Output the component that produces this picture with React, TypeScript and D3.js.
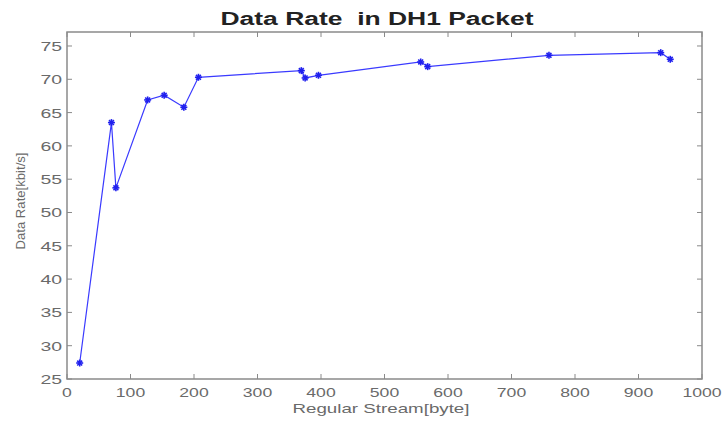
import React from "react";
import * as d3 from "d3";

const streamBytes = [20, 70, 77, 127, 153, 184, 207, 369, 375, 396, 557, 568, 759, 935, 950];
const dataRates = [27.4, 63.5, 53.7, 66.9, 67.6, 65.8, 70.3, 71.3, 70.2, 70.6, 72.6, 71.9, 73.6, 74.0, 73.0];
const xTicks = [0, 100, 200, 300, 400, 500, 600, 700, 800, 900, 1000];
const yTicks = [25, 30, 35, 40, 45, 50, 55, 60, 65, 70, 75];

const W = 727;
const H = 423;
const L = 67, R = 702, T = 32, B = 379;
const FONT = "Arial, 'Liberation Sans', Helvetica, sans-serif";

export default function App() {
  const x = d3.scaleLinear().domain([0, 1000]).range([L, R]);
  const y = d3.scaleLinear().domain([25, 77.1]).range([B, T]);
  const line = d3.line<number>().x((_, i) => x(streamBytes[i])).y((d) => y(d));
  const axisColor = "#8a8a8a";
  const textColor = "#6a6a6a";
  const lineColor = "#3a3aff";
  const tl = 5;
  return (
    <svg width={W} height={H} style={{ position: "absolute", left: 0, top: 0, background: "#fff" }}>
      <rect x={0} y={0} width={W} height={H} fill="#fff" />
      <text x={377} y={25} textAnchor="middle" fontFamily={FONT} fontWeight="bold" fontSize={18} fill="#222"
        textLength={313} lengthAdjust="spacingAndGlyphs" style={{ whiteSpace: "pre" }}>
        {"Data Rate  in DH1 Packet"}
      </text>
      <rect x={L} y={T} width={R - L} height={B - T} fill="none" stroke={axisColor} strokeWidth={1.5} />
      {xTicks.map((t) => (
        <g key={"x" + t}>
          <line x1={x(t)} x2={x(t)} y1={B} y2={B - tl} stroke={axisColor} />
          <line x1={x(t)} x2={x(t)} y1={T} y2={T + tl} stroke={axisColor} />
          <text x={x(t)} y={397} textAnchor="middle" fontFamily={FONT} fontSize={13} fill={textColor}
            textLength={String(t).length * 9.8} lengthAdjust="spacingAndGlyphs">{t}</text>
        </g>
      ))}
      {yTicks.map((t) => (
        <g key={"y" + t}>
          <line x1={L} x2={L + tl} y1={y(t)} y2={y(t)} stroke={axisColor} />
          <line x1={R} x2={R - tl} y1={y(t)} y2={y(t)} stroke={axisColor} />
          <text x={62} y={y(t) + 5} textAnchor="end" fontFamily={FONT} fontSize={13} fill={textColor}
            textLength={String(t).length * 10.8} lengthAdjust="spacingAndGlyphs">{t}</text>
        </g>
      ))}
      <text x={381} y={413} textAnchor="middle" fontFamily={FONT} fontSize={13} fill={textColor}
        textLength={177} lengthAdjust="spacingAndGlyphs">Regular Stream[byte]</text>
      <text transform={`translate(25,201) rotate(-90)`} textAnchor="middle" fontFamily={FONT} fontSize={12} fill={textColor}
        textLength={97} lengthAdjust="spacingAndGlyphs">Data Rate[kbit/s]</text>
      <path d={line(dataRates) || ""} fill="none" stroke={lineColor} strokeWidth={1.2} />
      {dataRates.map((v, i) => {
        const cx = x(streamBytes[i]);
        const cy = y(v);
        const s = 3.5;
        return (
          <g key={"m" + i} stroke="#2020ee" strokeWidth={1.6}>
            <line x1={cx - s} x2={cx + s} y1={cy} y2={cy} />
            <line x1={cx} x2={cx} y1={cy - s} y2={cy + s} />
            <line x1={cx - s * 0.7} x2={cx + s * 0.7} y1={cy - s * 0.7} y2={cy + s * 0.7} />
            <line x1={cx - s * 0.7} x2={cx + s * 0.7} y1={cy + s * 0.7} y2={cy - s * 0.7} />
          </g>
        );
      })}
    </svg>
  );
}
